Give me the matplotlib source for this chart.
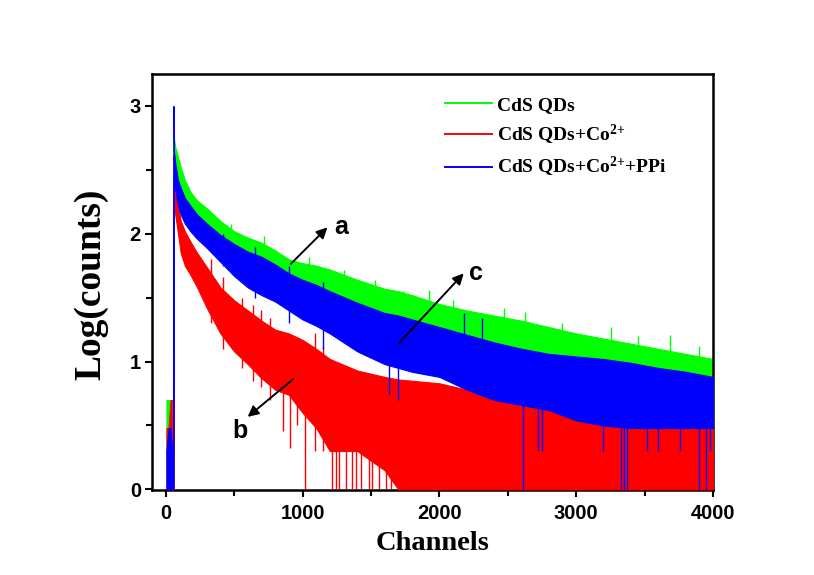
import matplotlib
matplotlib.use("Agg")
import matplotlib.pyplot as plt
from matplotlib.lines import Line2D
from matplotlib.ticker import MultipleLocator

plt.rcParams['mathtext.fontset'] = 'custom'
plt.rcParams['mathtext.bf'] = 'Liberation Serif:bold'
plt.rcParams['mathtext.rm'] = 'Liberation Serif:bold'
plt.rcParams['mathtext.default'] = 'bf'

# ---------------- data ----------------
labels = ["CdS QDs", r"CdS QDs+Co$^{2{+}}$", r"CdS QDs+Co$^{2{+}}$+PPi"]
colors = ["#00ff00", "#ff0000", "#0000ff"]

# envelope of each noisy decay: channel, upper (spike tops), lower (spike bottoms)
ch = [54, 57, 60, 70, 90, 110, 140, 180, 230, 300, 400, 500, 600, 700, 800, 900,
      1000, 1100, 1200, 1400, 1600, 1700, 1800, 2000, 2200, 2400, 2600, 2800, 3000,
      3200, 3400, 3600, 3800, 4000]

green_hi = [0, 2.80, 2.75, 2.68, 2.60, 2.52, 2.42, 2.33, 2.26, 2.20, 2.10, 2.02, 1.97, 1.93, 1.87, 1.80,
            1.77, 1.75, 1.72, 1.64, 1.57, 1.55, 1.52, 1.45, 1.40, 1.36, 1.32, 1.27, 1.22,
            1.18, 1.14, 1.10, 1.06, 1.02]
green_lo = [0, 0, 2.60, 2.50, 2.38, 2.28, 2.18, 2.10, 2.03, 1.96, 1.87, 1.79, 1.73, 1.68, 1.63, 1.58,
            1.54, 1.50, 1.47, 1.38, 1.32, 1.29, 1.26, 1.20, 1.14, 1.09, 1.05, 1.00, 0.96,
            0.92, 0.88, 0.84, 0.80, 0.76]

red_hi = [0, 2.62, 2.55, 2.40, 2.22, 2.10, 2.02, 1.94, 1.85, 1.74, 1.58, 1.48, 1.40, 1.32, 1.25, 1.22,
          1.17, 1.10, 1.02, 0.93, 0.88, 0.86, 0.85, 0.83, 0.78, 0.70, 0.70, 0.68, 0.66,
          0.60, 0.60, 0.60, 0.60, 0.52]
red_lo = [0, 0, 2.30, 2.15, 2.00, 1.85, 1.75, 1.68, 1.58, 1.42, 1.22, 1.08, 0.98, 0.87, 0.78, 0.74,
          0.60, 0.48, 0.30, 0.30, 0.15, 0.0, 0.0, 0.0, 0.0, 0.0, 0.0, 0.0, 0.0,
          0.0, 0.0, 0.0, 0.0, 0.0]

blue_hi = [0, 3.00, 2.65, 2.55, 2.42, 2.36, 2.28, 2.22, 2.15, 2.08, 1.99, 1.92, 1.86, 1.82, 1.76, 1.69,
           1.64, 1.60, 1.55, 1.46, 1.38, 1.36, 1.33, 1.27, 1.21, 1.15, 1.10, 1.06, 1.04,
           1.02, 0.99, 0.95, 0.92, 0.88]
blue_lo = [0, 0, 2.50, 2.35, 2.22, 2.15, 2.08, 2.02, 1.96, 1.89, 1.78, 1.67, 1.58, 1.52, 1.47, 1.40,
           1.33, 1.28, 1.22, 1.08, 0.98, 0.95, 0.92, 0.88, 0.78, 0.70, 0.66, 0.62, 0.54,
           0.50, 0.48, 0.48, 0.48, 0.48]

# small counts before the excitation peak
pre_ch = [5, 20, 35, 48, 53]
pre_green = [0.70, 0.70, 0.70, 0.48, 0.0]
pre_red = [0.48, 0.48, 0.70, 0.70, 0.0]
pre_blue = [0.30, 0.48, 0.48, 0.30, 0.0]

# isolated spikes: channel, bottom, top
red_spk_ch = [330, 420, 560, 640, 700, 760, 854, 912, 960, 1017, 1090, 1150, 1214, 1243, 1267, 1316,
              1364, 1389, 1425, 1486, 1510, 1559, 1607, 1644]
red_spk_lo = [1.30, 1.10, 0.95, 0.85, 0.80, 0.70, 0.46, 0.32, 0.50, 0.0, 0.30, 0.30, 0.0, 0.0, 0.0, 0.0,
              0.0, 0.0, 0.0, 0.0, 0.0, 0.0, 0.0, 0.0]
red_spk_hi = [1.80, 1.66, 1.50, 1.44, 1.40, 1.34, 0.80, 0.76, 0.70, 0.65, 1.22, 1.12, 0.35, 0.35, 0.35, 0.32,
              0.32, 0.32, 0.30, 0.28, 0.28, 0.22, 0.18, 0.15]

green_spk_ch = [480, 720, 1050, 1300, 1532, 1735, 1922, 2100, 2469, 2627, 2900, 3256, 3450, 3683, 3900]
green_spk_lo = [1.90, 1.80, 1.60, 1.50, 1.40, 1.30, 1.25, 1.20, 1.10, 1.05, 1.00, 0.95, 0.92, 0.90, 0.85]
green_spk_hi = [2.08, 1.98, 1.82, 1.72, 1.64, 1.55, 1.56, 1.48, 1.42, 1.39, 1.30, 1.27, 1.20, 1.21, 1.12]

blue_spk_ch = [420, 650, 900, 1150, 1630, 1700, 2178, 2310, 2615, 2720, 2750, 3197, 3330, 3350, 3370,
               3520, 3600, 3760, 3900, 3950, 3980]
blue_spk_lo = [1.75, 1.50, 1.30, 1.10, 0.75, 0.70, 1.00, 1.00, 0.0, 0.30, 0.30, 0.30, 0.0, 0.0, 0.0,
               0.30, 0.30, 0.30, 0.0, 0.0, 0.30]
blue_spk_hi = [2.00, 1.90, 1.75, 1.62, 1.00, 1.00, 1.38, 1.34, 0.80, 0.70, 0.70, 0.60, 0.55, 0.55, 0.55,
               0.55, 0.55, 0.55, 0.55, 0.55, 0.55]

# arrows: (tail, head, label position)
arrows = {
    "a": ((915, 1.765), (1182, 2.05), (1280, 2.05)),
    "b": ((932, 0.863), (599, 0.567), (546, 0.46)),
    "c": ((1704, 1.143), (2178, 1.69), (2269, 1.69)),
}

# ---------------- figure ----------------
fig = plt.figure(figsize=(8.14, 5.75), dpi=100)
fig.patch.set_facecolor("white")
ax = fig.add_axes([152 / 814, 85 / 575, 561 / 814, 416 / 575])

series = [
    (green_hi, green_lo, pre_green, green_spk_ch, green_spk_lo, green_spk_hi),
    (red_hi, red_lo, pre_red, red_spk_ch, red_spk_lo, red_spk_hi),
    (blue_hi, blue_lo, pre_blue, blue_spk_ch, blue_spk_lo, blue_spk_hi),
]
for i, (hi, lo, pre, sc, sl, sh) in enumerate(series):
    z = 2 + i
    c = colors[i]
    ax.fill_between(pre_ch, 0, pre, color=c, lw=0.6, zorder=z)
    ax.fill_between(ch, lo, hi, color=c, lw=0.8, edgecolor=c, zorder=z)
    ax.vlines(sc, sl, sh, color=c, lw=1.0, zorder=z)

for key, (tail, head, lab) in arrows.items():
    ax.annotate("", xy=head, xytext=tail,
                arrowprops=dict(arrowstyle="-|>", color="black", lw=1.4,
                                mutation_scale=16, shrinkA=0, shrinkB=0), zorder=6)
    ax.text(lab[0], lab[1], key, fontsize=18, fontweight="bold", family="Liberation Sans",
            ha="center", va="center", zorder=6)

ax.set_xlim(-100, 4000)
ax.set_ylim(-0.005, 3.25)
ax.xaxis.set_major_locator(MultipleLocator(1000))
ax.xaxis.set_minor_locator(MultipleLocator(500))
ax.yaxis.set_major_locator(MultipleLocator(1))
ax.yaxis.set_minor_locator(MultipleLocator(0.5))
ax.tick_params(which="both", direction="out", width=1.5, top=False, right=False)
ax.tick_params(which="major", length=5)
ax.tick_params(which="minor", length=4)
ax.tick_params(axis="x", pad=5)
ax.tick_params(axis="y", pad=3)
for lab in ax.get_xticklabels() + ax.get_yticklabels():
    lab.set_fontfamily("Liberation Sans")
    lab.set_fontweight("bold")
    lab.set_fontsize(14.5)
for s in ax.spines.values():
    s.set_linewidth(1.8)

fig.text(91 / 814, (575 - 284) / 575, "Log(counts)", rotation=90, ha="center", va="center",
         fontsize=27, fontweight="bold", family="Liberation Serif")
fig.text(433 / 814, 25 / 575, "Channels", ha="center", va="baseline",
         fontsize=20.5, fontweight="bold", family="Liberation Serif")

handles = [Line2D([0], [0], color=c, lw=1.4) for c in colors]
leg = ax.legend(handles, labels, loc="upper left", bbox_to_anchor=(0.522, 0.947),
                frameon=False, borderpad=0, borderaxespad=0, handlelength=2.4,
                handletextpad=0.3, labelspacing=0.45,
                prop=dict(family="Liberation Serif", weight="bold", size=14))

fig.savefig("out.png", dpi=100, facecolor="white")
